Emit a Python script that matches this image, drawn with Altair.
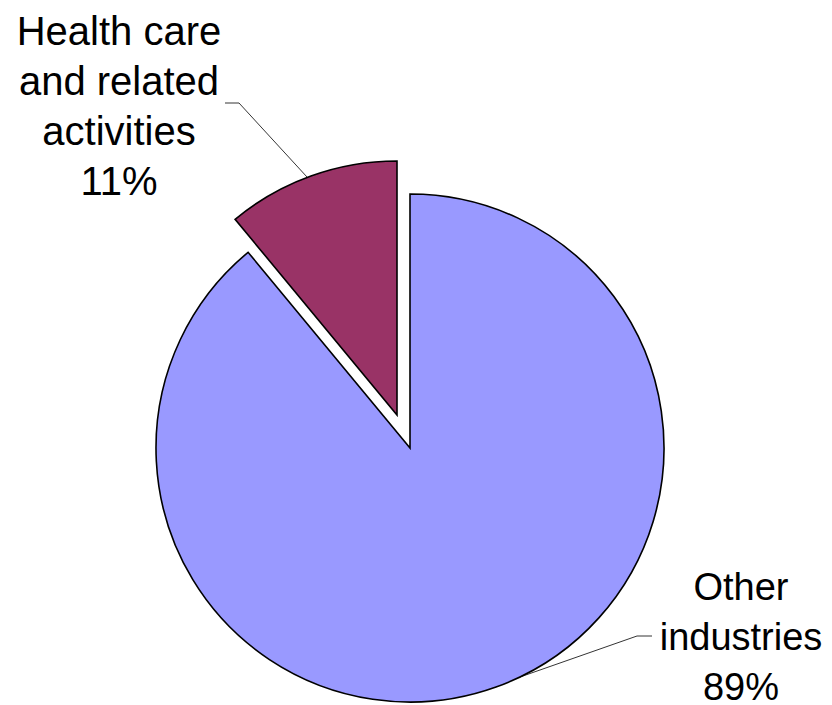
import altair as alt
import pandas as pd

categories = ["Other industries", "Health care and related activities"]
values = [89, 11]
order = [0, 1]
label_texts = ["Other\nindustries\n89%", "Health care\nand related\nactivities\n11%"]
colors = ["#9999FF", "#993366"]

df = pd.DataFrame({"category": categories, "value": values, "order": order})

R = 254
main_cx, main_cy = 402, 440
expl_cx, expl_cy = 389, 407

theta_scale = alt.Scale(domain=[0, 100])
color_scale = alt.Scale(domain=categories, range=colors)

base = alt.Chart(df).transform_stack(
    stack="value", as_=["v0", "v1"], groupby=[], sort=[alt.SortField("order")]
)

def slice_layer(cat, cx, cy):
    return base.transform_filter(alt.datum.category == cat).mark_arc(
        stroke="black", strokeWidth=1.6, radius=R
    ).encode(
        theta=alt.Theta("v0:Q", scale=theta_scale),
        theta2="v1:Q",
        color=alt.Color("category:N", scale=color_scale, legend=None),
        x=alt.value(cx),
        y=alt.value(cy),
    )

other = slice_layer(categories[0], main_cx, main_cy)
health = slice_layer(categories[1], expl_cx, expl_cy)

W, H = 816, 697

# leader lines (annotation)
lead_h = pd.DataFrame({"px": [217, 231, 299], "py": [95, 95, 169], "k": [0, 1, 2]})
lead_o = pd.DataFrame({"px": [644, 629, 512], "py": [628, 628, 669], "k": [0, 1, 2]})

def leader(d):
    return alt.Chart(d).mark_line(color="black", strokeWidth=0.8).encode(
        x=alt.X("px:Q", scale=alt.Scale(domain=[0, W]), axis=None),
        y=alt.Y("py:Q", scale=alt.Scale(domain=[H, 0]), axis=None),
        order="k:Q",
    )

def label(text, x, y, size):
    return alt.Chart(pd.DataFrame({"t": [text]})).mark_text(
        font="Liberation Sans", fontSize=size, lineHeight=50, align="center",
        baseline="alphabetic", color="black", lineBreak="\n"
    ).encode(text="t:N", x=alt.value(x), y=alt.value(y))

lab_o = label(label_texts[0], 733, 592, 38)
lab_h = label(label_texts[1], 111, 37, 40)

chart = alt.layer(other, health, leader(lead_h), leader(lead_o), lab_h, lab_o).properties(
    width=W, height=H, padding=0, autosize=alt.AutoSizeParams(type="none")
).configure_view(stroke=None)

chart.save("out.html", embed_options={"renderer": "svg", "actions": False})
